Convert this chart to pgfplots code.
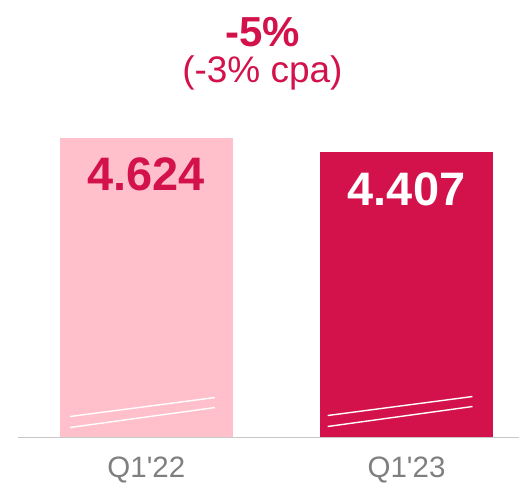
\documentclass[border=0pt]{standalone}
\usepackage{pgfplots}
\pgfplotsset{compat=1.18}
\usepackage{fontspec}
\setmainfont{Liberation Sans}
\definecolor{lpink}{HTML}{FFC0CB}
\definecolor{crim}{HTML}{D3114B}
\definecolor{tgray}{HTML}{7F7F7F}
\definecolor{lgray}{HTML}{C8C8C8}
\begin{document}
\begin{tikzpicture}
\begin{axis}[
  scale only axis, width=502pt, height=438pt,
  xmin=-0.4933, xmax=1.4338, ymin=0, ymax=6.751,
  axis x line*=bottom, axis y line=none,
  x axis line style={lgray, line width=1.2pt, -},
  ybar, bar width=173.5pt, bar shift=0pt,
  xtick={0,1}, xticklabels={Q1\textquotesingle 22, Q1\textquotesingle 23},
  major tick length=0pt,
  xticklabel style={font=\fontsize{29.5}{32}\selectfont, text=tgray, anchor=center, yshift=-33pt},
  clip=false,
  point meta=explicit symbolic,
  nodes near coords,
  nodes near coords style={anchor=center, yshift=-37pt, font=\bfseries\fontsize{47}{50}\selectfont},
]
\addplot[fill=lpink, draw=none, nodes near coords style={text=crim}] coordinates {(0,4.624) [4.624]};
\addplot[fill=crim, draw=none, nodes near coords style={text=white}] coordinates {(1,4.407) [4.407]};
\draw[white, line width=1.4pt] (axis cs:-0.2937,0.3237) -- (axis cs:0.263,0.6165);
\draw[white, line width=1.4pt] (axis cs:-0.2937,0.154) -- (axis cs:0.263,0.462);
\draw[white, line width=1.4pt] (axis cs:0.6967,0.339) -- (axis cs:1.2534,0.632);
\draw[white, line width=1.4pt] (axis cs:0.6967,0.1695) -- (axis cs:1.2534,0.478);
\node[text=crim, font=\bfseries\fontsize{42}{46}\selectfont] at (axis cs:0.446,6.26) {-5\%};
\node[text=crim, font=\fontsize{37}{40}\selectfont] at (axis cs:0.446,5.626) {(-3\% cpa)};
\end{axis}
\path ([xshift=-18pt,yshift=-54pt]current axis.south west) rectangle (current axis.north east);
\end{tikzpicture}
\end{document}
